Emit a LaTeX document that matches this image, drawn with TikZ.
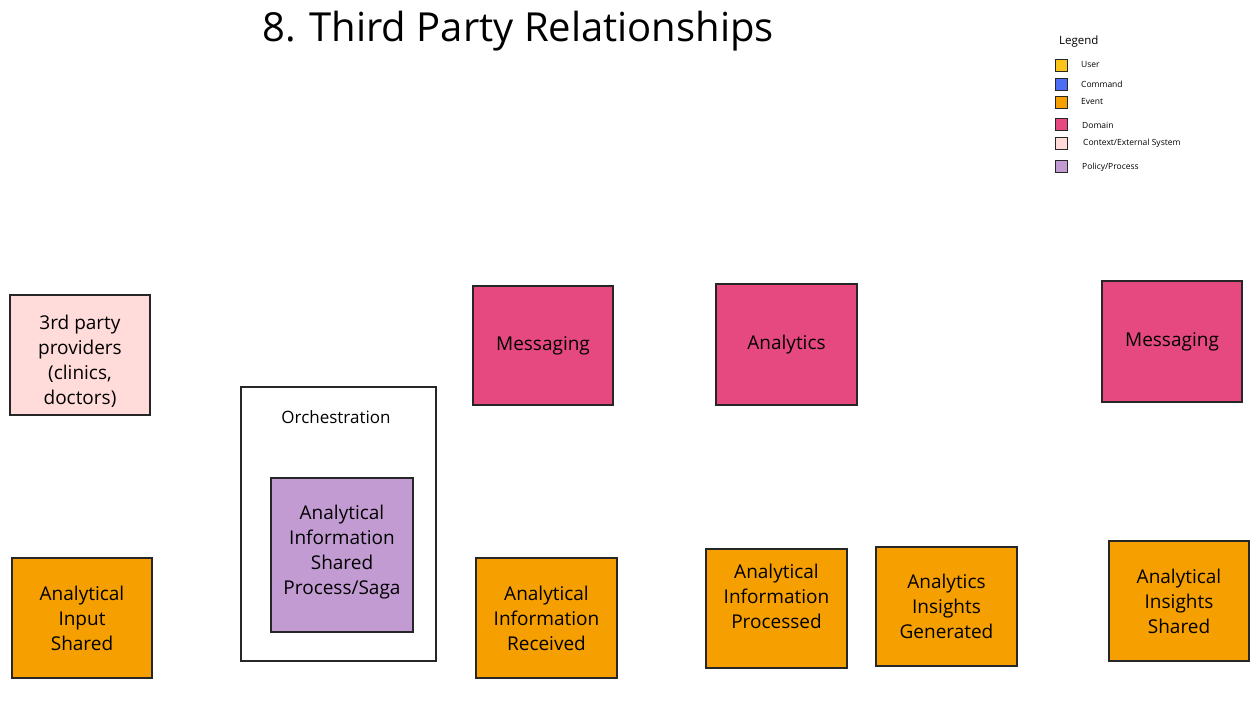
\documentclass[tikz,border=0pt]{standalone}
\usepackage{fontspec}
\setmainfont{Open Sans}
\usetikzlibrary{calc}
\definecolor{evt}{HTML}{F59F00}
\definecolor{dom}{HTML}{E64980}
\definecolor{ctx}{HTML}{FFDCDA}
\definecolor{pol}{HTML}{C39BD3}
\definecolor{usr}{HTML}{FCC419}
\definecolor{cmd}{HTML}{4C6EF5}
\tikzset{
  x=1pt,y=-1pt,
  lsq/.style={draw=black!85,line width=1pt,anchor=north west,minimum width=12pt,minimum height=12pt,inner sep=0pt},
  llab/.style={anchor=west,font=\fontsize{8.5}{10}\selectfont,inner sep=0pt},
  stxt/.style={font=\fontsize{19}{25}\selectfont,align=center},
}
\newcommand{\boxat}[6]{% name, x1,y1,x2,y2, color
  \path[draw=black!85,line width=1.1pt,fill=#6] (#2,#3) rectangle (#4,#5);
  \coordinate (#1) at ({(#2+#4)/2},{(#3+#5)/2});
}
\begin{document}
\begin{tikzpicture}
\useasboundingbox (0,0) rectangle (1259,714);
\fill[white] (0,0) rectangle (1259,714);
\node[font=\fontsize{40}{46}\selectfont,inner sep=0pt] (title) at (518,31) {8. Third Party Relationships};
% legend
\node[font=\fontsize{11.5}{13}\selectfont,anchor=west,inner sep=0pt] (leg) at (1059,42) {Legend};
\node[lsq,fill=usr] (l1) at (1055,59) {}; \node[llab] (t1) at (1081,65) {User};
\node[lsq,fill=cmd] (l2) at (1055,78) {}; \node[llab] (t2) at (1081,84) {Command};
\node[lsq,fill=evt] (l3) at (1055,96) {}; \node[llab] (t3) at (1081,102) {Event};
\node[lsq,fill=dom] (l4) at (1055,118) {}; \node[llab] (t4) at (1082,125) {Domain};
\node[lsq,fill=ctx] (l5) at (1055,137) {}; \node[llab] (t5) at (1083,143) {Context/External System};
\node[lsq,fill=pol] (l6) at (1055,160) {}; \node[llab] (t6) at (1082,167) {Policy/Process};
% boxes
\boxat{ctxb}{10}{295}{150}{415}{ctx}
\node[stxt] (ctxt) at ($(ctxb)+(0,6)$) {3rd party\\providers\\(clinics,\\doctors)};
\boxat{orch}{241}{387}{436}{661}{white}
\node[font=\fontsize{17}{20}\selectfont] (orcht) at (336,417) {Orchestration};
\boxat{polb}{271}{478}{413}{632}{pol}
\node[stxt] (polt) at ($(polb)+(0,-3)$) {Analytical\\Information\\Shared\\Process/Saga};
\boxat{m1}{473}{286}{613}{405}{dom}
\node[stxt] (m1t) at (m1) {Messaging};
\boxat{an}{716}{284}{857}{405}{dom}
\node[stxt] (ant) at (an) {Analytics};
\boxat{m2}{1102}{281}{1242}{402}{dom}
\node[stxt] (m2t) at (m2) {Messaging};
\boxat{e1}{12}{558}{152}{678}{evt}
\node[stxt] (e1t) at (e1) {Analytical\\Input\\Shared};
\boxat{e2}{476}{558}{617}{678}{evt}
\node[stxt] (e2t) at (e2) {Analytical\\Information\\Received};
\boxat{e3}{706}{549}{847}{668}{evt}
\node[stxt] (e3t) at ($(e3)+(0,-12)$) {Analytical\\Information\\Processed};
\boxat{e4}{876}{547}{1017}{666}{evt}
\node[stxt] (e4t) at (e4) {Analytics\\Insights\\Generated};
\boxat{e5}{1109}{541}{1249}{661}{evt}
\node[stxt] (e5t) at (e5) {Analytical\\Insights\\Shared};
\end{tikzpicture}
\end{document}
